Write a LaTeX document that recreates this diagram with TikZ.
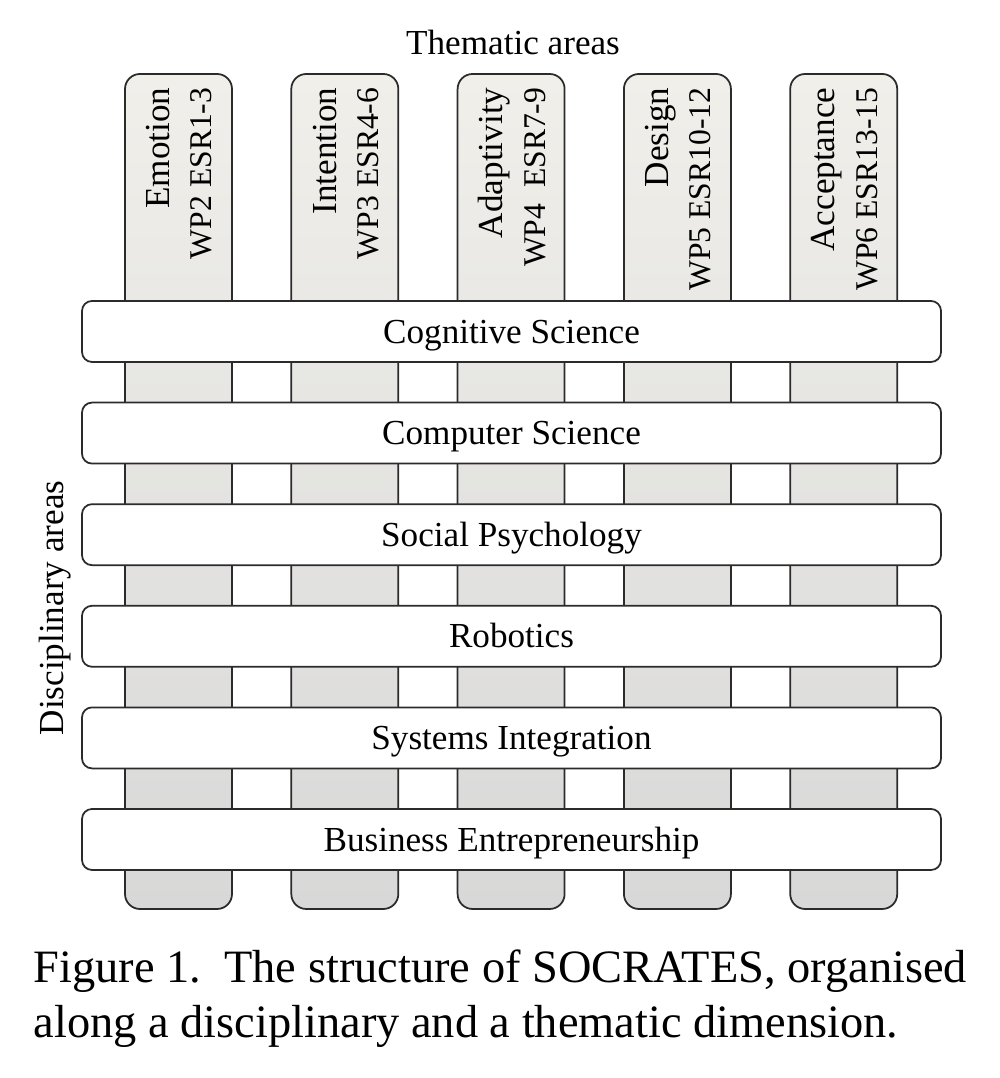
\documentclass[tikz,border=0pt]{standalone}
\usepackage{fontspec}
\setmainfont{Liberation Serif}

\definecolor{coltop}{HTML}{F0EFEA}
\definecolor{colbot}{HTML}{D8D8D8}
\definecolor{edgegrey}{HTML}{2B2B2B}

\newcommand{\wpfont}{\fontsize{9}{11.4}\selectfont}

\tikzset{
	themecol/.style={shape=rectangle, draw=edgegrey, line width=0.5pt, rounded corners=0.15cm, top color=coltop, bottom color=colbot, minimum width=1.07cm, minimum height=8.35cm, inner sep=0pt},
	themelabel/.style={rotate=90, anchor=east, align=right, inner sep=0pt, font=\fontsize{10}{12}\selectfont},
	discrow/.style={shape=rectangle, draw=edgegrey, fill=white, line width=0.5pt, rounded corners=0.1cm, minimum width=8.59cm, minimum height=0.61cm, text height=0.7em, text depth=0.04em, font=\fontsize{10}{12}\selectfont},
}

\begin{document}
\begin{tikzpicture}
	\fill[white] (0, 0) rectangle (10, 10.78);
	\useasboundingbox (0, 0) rectangle (10, 10.78);
	% Thematic columns:
	\node[themecol](col1) at (1.785, 5.865){};
	\node[themecol](col2) at (3.448, 5.865){};
	\node[themecol](col3) at (5.111, 5.865){};
	\node[themecol](col4) at (6.774, 5.865){};
	\node[themecol](col5) at (8.437, 5.865){};
	\node[themelabel](theme1) at (1.795, 9.91){Emotion\\\wpfont WP2 ESR1-3};
	\node[themelabel](theme2) at (3.458, 9.91){Intention\\\wpfont WP3 ESR4-6};
	\node[themelabel](theme3) at (5.121, 9.91){Adaptivity\\\wpfont WP4\ \ ESR7-9};
	\node[themelabel](theme4) at (6.784, 9.91){Design\\\wpfont WP5 ESR10-12};
	\node[themelabel](theme5) at (8.447, 9.91){Acceptance\\\wpfont WP6 ESR13-15};
	\node[anchor=base, font=\fontsize{10}{12}\selectfont](thematic) at (5.13, 10.23){Thematic areas};
	% Disciplinary rows:
	\node[discrow](row1) at (5.115, 7.465){Cognitive Science};
	\node[discrow](row2) at (5.115, 6.449){Computer Science};
	\node[discrow](row3) at (5.115, 5.433){Social Psychology};
	\node[discrow](row4) at (5.115, 4.417){Robotics};
	\node[discrow](row5) at (5.115, 3.401){Systems Integration};
	\node[discrow](row6) at (5.115, 2.385){Business Entrepreneurship};
	\node[rotate=90, anchor=base, font=\fontsize{10}{12}\selectfont](disciplinary) at (0.63, 4.70){Disciplinary areas};
	% Caption:
	\node[anchor=south west, align=left, inner sep=0pt, font=\fontsize{13.2}{15.6}\selectfont](caption) at (0.33, 0.30){Figure 1.\ \ The structure of SOCRATES, organised\\along a disciplinary and a thematic dimension.};
\end{tikzpicture}
\end{document}
